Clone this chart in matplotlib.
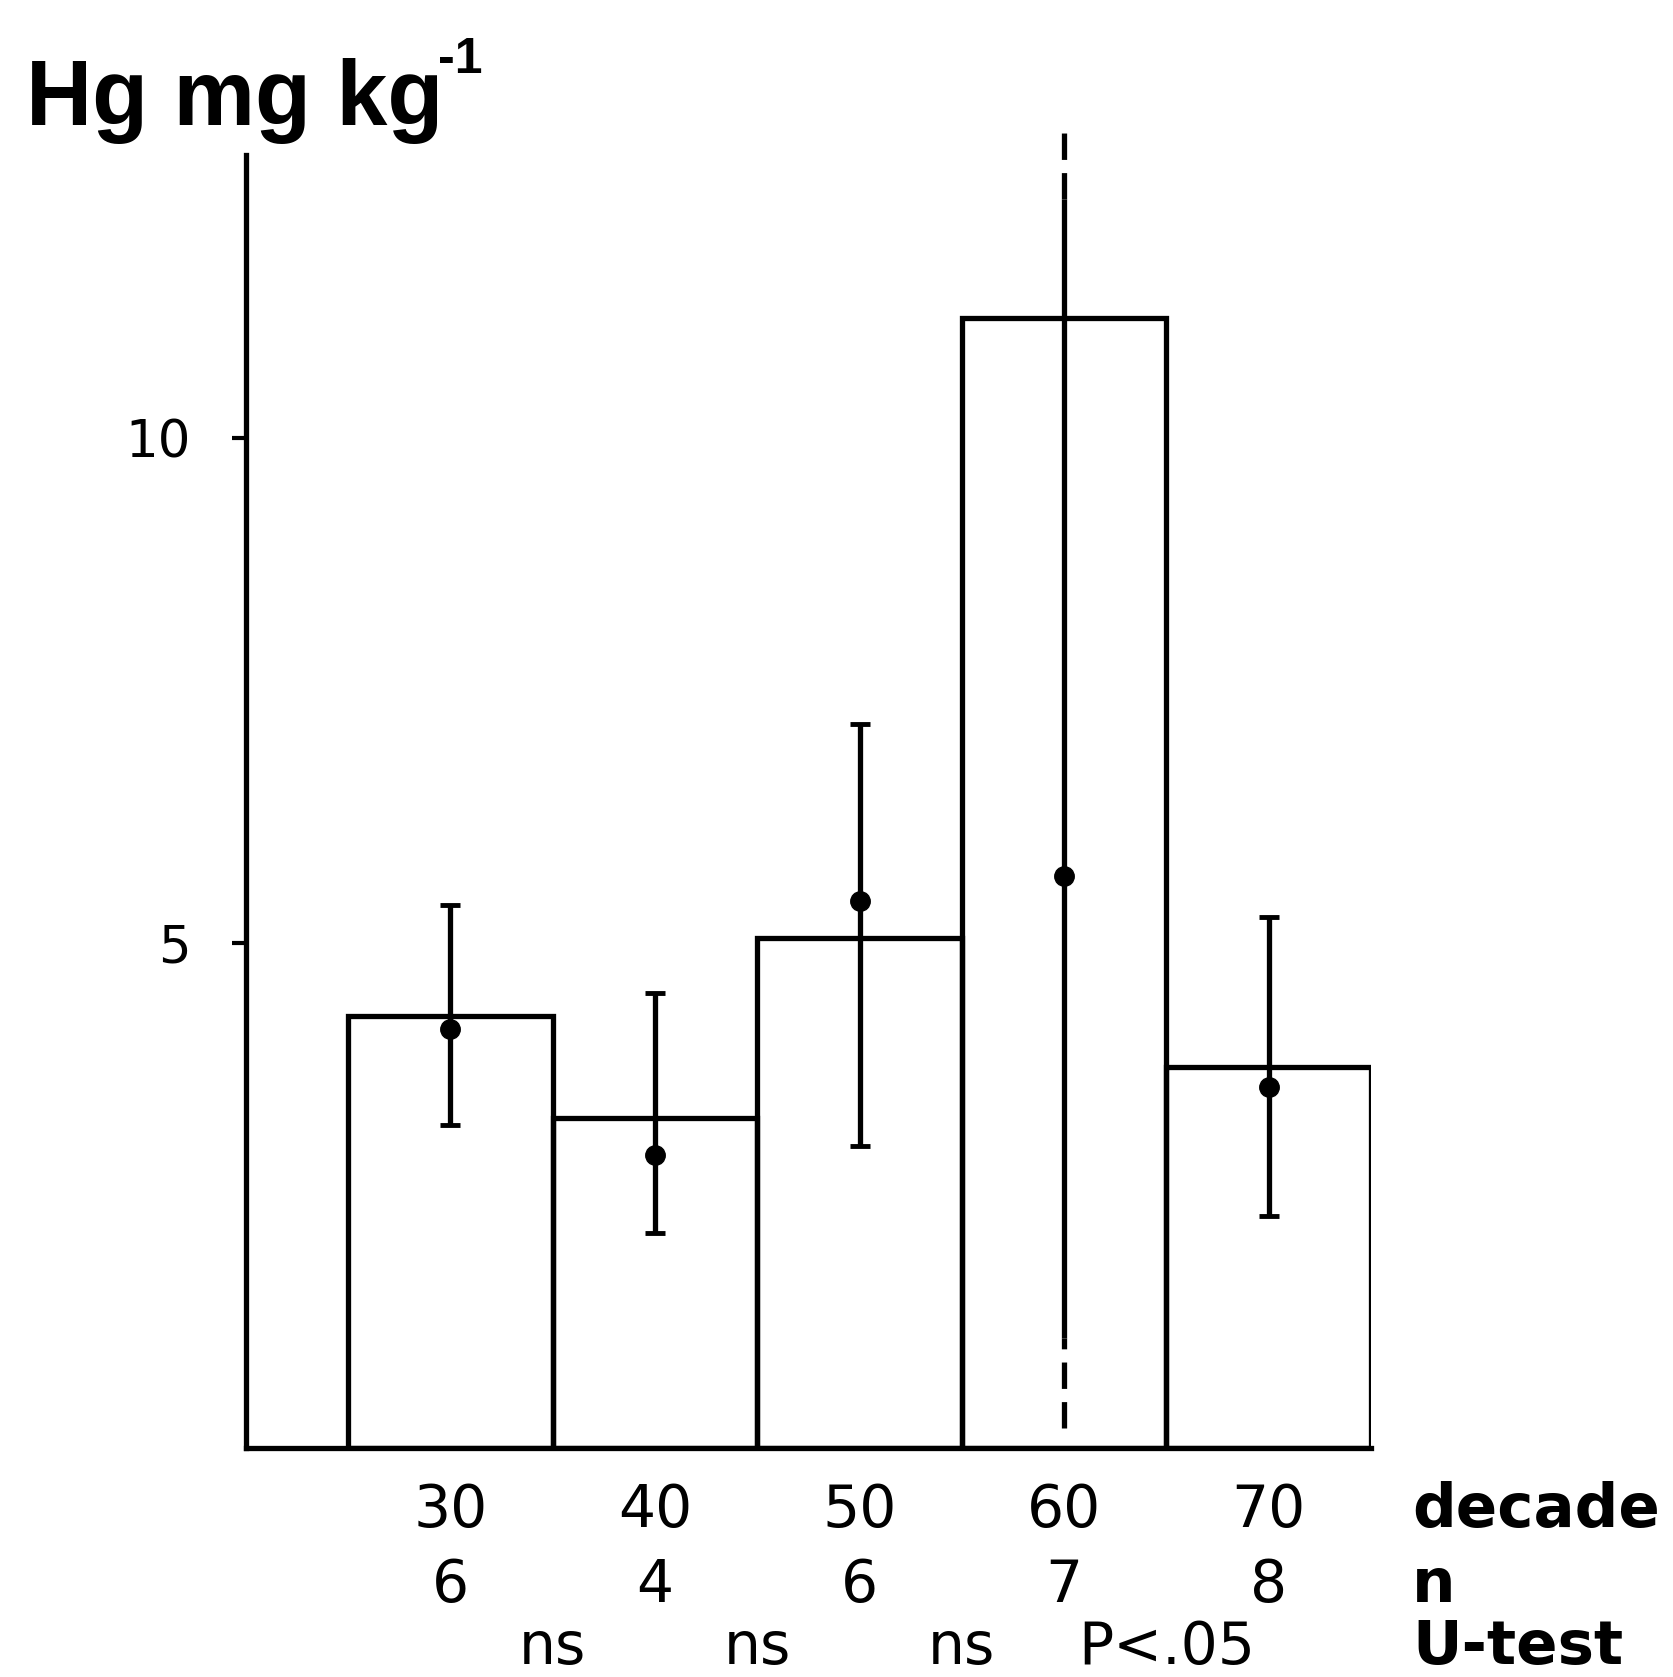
import matplotlib
matplotlib.use("Agg")
import matplotlib.pyplot as plt
from matplotlib.transforms import blended_transform_factory

# ---- data ----
decades = ["30", "40", "50", "60", "70"]
n_values = ["6", "4", "6", "7", "8"]
u_test = ["ns", "ns", "ns", "P<.05"]          # between consecutive decades
bar_values = [4.28, 3.27, 5.05, 11.19, 3.77]
point_values = [4.15, 2.90, 5.41, 5.66, 3.57]
err_upper = [5.37, 4.50, 7.17, 13.05, 5.26]
err_lower = [3.20, 2.13, 2.99, 0.20, 2.30]
# range of the 60s whisker that is drawn solid (rest dashed)
solid_60 = (1.09, 12.36)

fig = plt.figure(figsize=(16.73, 16.77), dpi=100)
ax = fig.add_axes([0.1470, 0.1366, 0.6725, 0.7710])

LW = 3.8
x = list(range(1, len(decades) + 1))
ax.bar(x, bar_values, width=1.0, fill=False, edgecolor="black", linewidth=LW)

for i, xi in enumerate(x):
    if decades[i] == "60":
        ax.plot([xi], [point_values[i]], "o", color="black", ms=14, zorder=5)
        ax.vlines(xi, solid_60[0], solid_60[1], color="black", lw=LW, zorder=4)
        ax.vlines(xi, err_lower[i], solid_60[0], color="black", lw=LW,
                  linestyles=(0, (5, 2.5)), zorder=4, clip_on=False)
        ax.vlines(xi, solid_60[1], err_upper[i], color="black", lw=LW,
                  linestyles=(0, (5, 2.5)), zorder=4, clip_on=False)
    else:
        ax.errorbar([xi], [point_values[i]],
                    yerr=[[point_values[i] - err_lower[i]], [err_upper[i] - point_values[i]]],
                    fmt="o", color="black", ms=14, capsize=7, capthick=3.5, elinewidth=LW,
                    zorder=5)

ax.set_xlim(0.0, 5.5)
ax.set_ylim(0, 12.8)
for s in ["top", "right"]:
    ax.spines[s].set_visible(False)
for s in ["left", "bottom"]:
    ax.spines[s].set_linewidth(LW)
ax.set_xticks([])
ax.set_yticks([5, 10])
ax.set_yticklabels(["5", "10"], fontsize=37, family="DejaVu Sans")
ax.tick_params(axis="y", length=10, width=3, pad=30)

tr = blended_transform_factory(ax.transData, fig.transFigure)
row_y = [0.0892, 0.0446, 0.008]
numfont = dict(fontsize=42, family="DejaVu Sans", ha="center", va="baseline")
for xi, d in zip(x, decades):
    fig.text(xi, row_y[0], d, transform=tr, **numfont)
for xi, nv in zip(x, n_values):
    fig.text(xi, row_y[1], nv, transform=tr, **numfont)
for i, u in enumerate(u_test):
    fig.text(x[i] + 0.5, row_y[2], u, transform=tr, **numfont)

lblfont = dict(fontsize=44, family="DejaVu Sans", fontweight="bold", ha="left", va="baseline")
fig.text(0.844, row_y[0], "decade", **lblfont)
fig.text(0.844, row_y[1], "n", **lblfont)
fig.text(0.844, row_y[2], "U-test", **lblfont)

fig.text(0.0155, 0.9255, "Hg mg kg", fontsize=66, family="Liberation Sans",
         fontweight="bold", ha="left", va="baseline")
fig.text(0.262, 0.9565, "-1", fontsize=36, family="Liberation Sans",
         fontweight="bold", ha="left", va="baseline")

fig.savefig("out.png", dpi=100, facecolor="white")
